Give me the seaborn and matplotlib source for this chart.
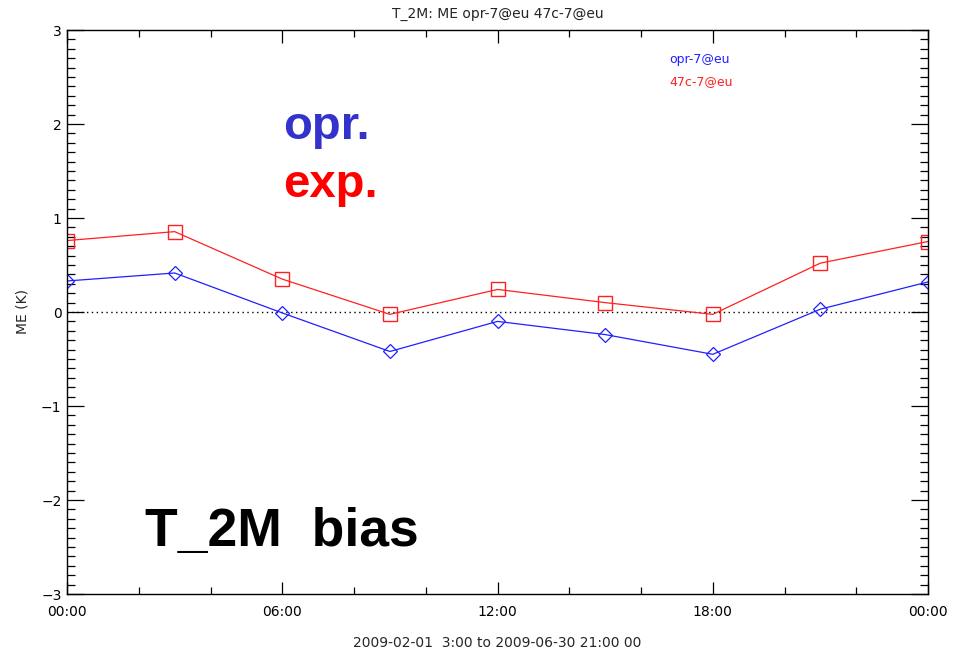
# T_2M bias plot: opr vs exp mean error over the day
import matplotlib
matplotlib.use('Agg')
import matplotlib.pyplot as plt
import seaborn as sns
import pandas as pd
from matplotlib.ticker import MultipleLocator, FixedLocator

# Data
hours = [0, 3, 6, 9, 12, 15, 18, 21, 24]
opr_me = [0.33, 0.415, -0.01, -0.42, -0.10, -0.24, -0.45, 0.03, 0.32]
exp_me = [0.76, 0.855, 0.35, -0.025, 0.24, 0.10, -0.025, 0.52, 0.75]
tick_hours = [0, 6, 12, 18, 24]
tick_labels = ['00:00', '06:00', '12:00', '18:00', '00:00']

df = pd.DataFrame({'hour': hours + hours,
                   'me': opr_me + exp_me,
                   'run': ['opr'] * len(hours) + ['exp'] * len(hours)})

sns.set_style('ticks')
plt.rcParams['font.family'] = ['DejaVu Sans']

fig = plt.figure(figsize=(9.64, 6.52), dpi=100)
ax = fig.add_axes([67 / 964, 58 / 652, 861 / 964, 564 / 652])

# zero line
ax.axhline(0, color='black', linestyle=(0, (1, 2.5)), linewidth=1)

sns.lineplot(data=df[df.run == 'opr'], x='hour', y='me', ax=ax, color='#2020ff',
             marker='D', markersize=7, markerfacecolor='none', markeredgecolor='#2020ff',
             markeredgewidth=0.9, linewidth=0.9)
sns.lineplot(data=df[df.run == 'exp'], x='hour', y='me', ax=ax, color='#ff2020',
             marker='s', markersize=9.5, markerfacecolor='none', markeredgecolor='#ff2020',
             markeredgewidth=1.0, linewidth=0.9)

ax.set_xlim(0, 24)
ax.set_ylim(-3, 3)
ax.xaxis.set_major_locator(FixedLocator(tick_hours))
ax.set_xticklabels(tick_labels)
ax.xaxis.set_minor_locator(MultipleLocator(2))
ax.yaxis.set_major_locator(MultipleLocator(1))
ax.yaxis.set_minor_locator(MultipleLocator(0.1))

ax.tick_params(axis='both', which='both', direction='in', top=True, right=True,
               colors='black', labelsize=10, width=0.9)
ax.tick_params(axis='x', which='major', length=9, pad=8)
ax.tick_params(axis='x', which='minor', length=5)
ax.tick_params(axis='y', which='major', length=12, pad=4)
ax.tick_params(axis='y', which='minor', length=6)
for s in ax.spines.values():
    s.set_color('black')
    s.set_linewidth(1)

ax.set_xlabel('2009-02-01  3:00 to 2009-06-30 21:00 00', fontsize=10, labelpad=12)
ax.set_ylabel('ME (K)', fontsize=10, labelpad=20)
ax.yaxis.set_label_coords(-37 / 861, 0.5)
ax.set_title('T_2M: ME opr-7@eu 47c-7@eu', fontsize=10, pad=9)

# in-plot legend labels
fig.text(669 / 964, 1 - 60 / 652, 'opr-7@eu', color='#2020ff', fontsize=9,
         va='center', ha='left')
fig.text(669 / 964, 1 - 82 / 652, '47c-7@eu', color='#ff2020', fontsize=9,
         va='center', ha='left')

# big annotations
big = dict(family=['Liberation Sans', 'DejaVu Sans'], fontweight='bold')
fig.text(283 / 964, 1 - 127 / 652, 'opr.', color='#3333cc', fontsize=34, va='center', ha='left', **big)
fig.text(283 / 964, 1 - 185 / 652, 'exp.', color='#ff0000', fontsize=34, va='center', ha='left', **big)
fig.text(145 / 964, 1 - 532 / 652, 'T_2M  bias', color='black', fontsize=38.5, va='center', ha='left', **big)

fig.savefig('out.png', dpi=100, facecolor='white')
